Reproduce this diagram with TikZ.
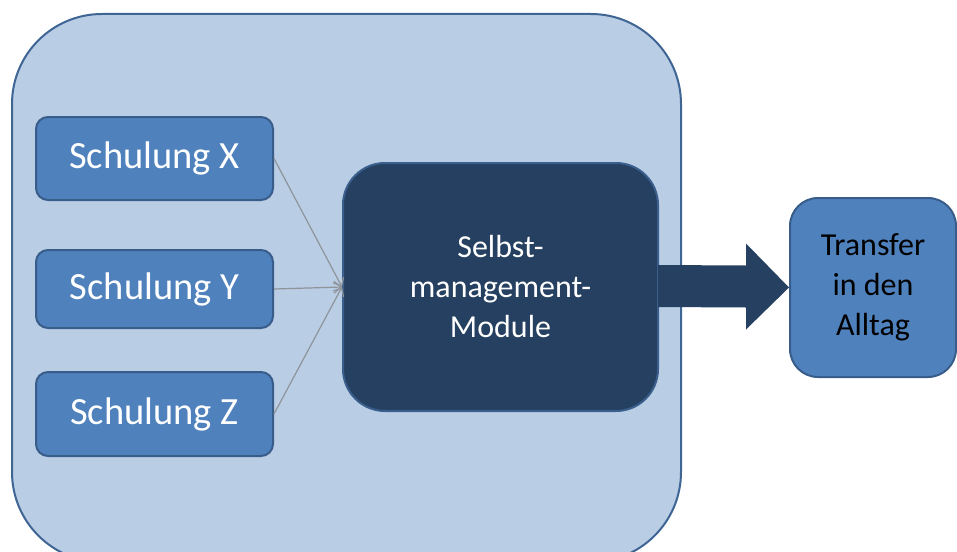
\documentclass[tikz,border=0pt]{standalone}
\usepackage{fontspec}
\setmainfont{Carlito}
\usetikzlibrary{calc,arrows.meta}
\definecolor{contfill}{HTML}{B9CDE5}
\definecolor{contline}{HTML}{3F6594}
\definecolor{boxfill}{HTML}{4F81BD}
\definecolor{boxline}{HTML}{385D8A}
\definecolor{darkfill}{HTML}{254061}
\definecolor{darkline}{HTML}{3A5F8C}
\definecolor{thinline}{HTML}{8F949A}
\tikzset{
  container/.style={draw=contline, fill=contfill, line width=2pt, rounded corners=90pt},
  schulbox/.style={draw=boxline, fill=boxfill, line width=2pt, rounded corners=12pt,
     minimum width=237pt, inner sep=0pt, text=white, font=\fontsize{38.5}{46}\selectfont},
  modbox/.style={draw=darkline, fill=darkfill, line width=2pt, rounded corners=42pt,
     minimum width=315pt, minimum height=248pt, inner sep=0pt, text=white, align=center,
     font=\fontsize{32}{40}\selectfont},
  transbox/.style={draw=boxline, fill=boxfill, line width=2pt, rounded corners=28pt,
     minimum width=166pt, minimum height=179pt, inner sep=0pt, text=black, align=center,
     font=\fontsize{32}{40}\selectfont},
  feed/.style={draw=thinline, line width=1.2pt, -{Straight Barb[length=7pt,width=12pt]}},
  bigarrow/.style={fill=darkfill}
}
\begin{document}
\begin{tikzpicture}[x=1pt,y=-1pt]
\useasboundingbox (0,0) rectangle (957,551);
\begin{scope}
\clip (0,0) rectangle (957,551);
\draw[container] (12,14) rectangle (681,562);
\end{scope}
\node[schulbox, minimum height=83pt] (sx) at (154.5,158.5) {Schulung X};
\node[schulbox, minimum height=78pt] (sy) at (154.5,289) {Schulung Y};
\node[schulbox, minimum height=84pt] (sz) at (154.5,414) {Schulung Z};
\node[modbox] (sm) at (500.5,287) {Selbst-\\management-\\Module};
\node[transbox] (tr) at (873,287.5) {Transfer\\in den\\Alltag};
\draw[feed] (sx.east) -- (sm.west);
\draw[feed] (sy.east) -- (sm.west);
\draw[feed] (sz.east) -- (sm.west);
\fill[bigarrow] ($(sm.east)+(-1,-22)$) -- ($(tr.west)+(-43,-22)$) -- ($(tr.west)+(-43,-44)$)
  -- (tr.west) -- ($(tr.west)+(-43,42)$) -- ($(tr.west)+(-43,20)$) -- ($(sm.east)+(-1,20)$) -- cycle;
\end{tikzpicture}
\end{document}
